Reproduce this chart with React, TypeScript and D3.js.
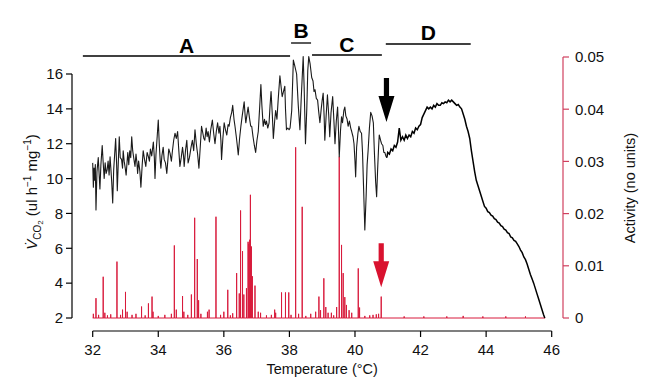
import React from "react";
import * as d3 from "d3";

// ---------- DATA ----------
const xTicks = [32, 34, 36, 38, 40, 42, 44, 46];
const leftTicks = [2, 4, 6, 8, 10, 12, 14, 16];
const rightTicks = [0, 0.01, 0.02, 0.03, 0.04, 0.05];
const rightTickLabels = ["0", "0.01", "0.02", "0.03", "0.04", "0.05"];

// noisy CO2 trace (temperature °C, VCO2)
const co2Noisy: [number, number][] = [
  [32.00,10.9],[32.02,9.5],[32.04,10.6],[32.06,9.9],[32.08,10.8],[32.10,8.2],[32.13,10.4],[32.17,11.2],[32.20,10.1],[32.22,9.4],
  [32.25,10.8],[32.29,11.9],[32.32,10.9],[32.35,10.0],[32.38,10.9],[32.41,10.3],[32.44,10.5],[32.47,11.0],[32.50,10.2],[32.53,11.25],
  [32.56,10.4],[32.58,9.8],[32.61,8.6],[32.64,10.5],[32.67,11.4],[32.70,12.3],[32.73,10.8],[32.75,9.3],[32.78,10.9],[32.81,12.4],
  [32.84,11.2],[32.88,11.1],[32.91,10.6],[32.93,11.6],[32.96,11.0],[33.00,10.5],[33.02,10.2],[33.05,11.0],[33.07,11.5],[33.10,10.8],
  [33.13,11.6],[33.16,11.2],[33.19,12.4],[33.22,11.6],[33.25,11.2],[33.29,10.7],[33.32,11.4],[33.35,10.9],[33.37,10.3],[33.40,11.0],
  [33.44,10.4],[33.47,9.5],[33.51,10.8],[33.54,11.6],[33.58,11.1],[33.62,10.7],[33.66,11.5],[33.70,11.25],[33.73,11.0],[33.76,11.7],
  [33.80,11.3],[33.85,12.1],[33.88,11.2],[33.90,10.0],[33.93,11.4],[33.97,12.5],[34.00,13.36],[34.03,12.0],[34.06,11.0],[34.08,10.6],
  [34.11,11.3],[34.15,11.8],[34.18,11.1],[34.22,10.9],[34.26,10.3],[34.29,11.0],[34.32,11.7],[34.36,11.45],[34.40,11.0],[34.43,11.55],
  [34.47,12.2],[34.51,12.6],[34.55,12.3],[34.59,12.7],[34.62,11.8],[34.66,10.7],[34.70,11.2],[34.74,11.8],[34.77,11.3],[34.79,10.7],
  [34.83,11.6],[34.87,12.2],[34.91,10.9],[34.95,11.2],[35.00,11.8],[35.04,12.2],[35.08,11.6],[35.12,12.8],[35.16,12.0],[35.20,11.4],
  [35.24,10.6],[35.28,11.8],[35.32,13.0],[35.36,12.6],[35.39,12.3],[35.42,12.2],[35.46,12.9],[35.49,12.4],[35.52,12.7],[35.56,12.1],
  [35.60,12.8],[35.65,13.36],[35.69,12.6],[35.73,12.0],[35.77,12.7],[35.81,13.2],[35.85,12.6],[35.88,13.0],[35.91,12.2],[35.93,11.1],
  [35.97,12.3],[36.01,13.2],[36.05,12.8],[36.09,12.5],[36.13,13.1],[36.16,13.0],[36.20,13.5],[36.24,13.8],[36.27,14.2],[36.31,13.4],
  [36.34,13.0],[36.38,12.4],[36.41,11.9],[36.44,11.35],[36.48,12.3],[36.52,13.0],[36.56,13.6],[36.59,14.0],[36.62,14.4],[36.65,13.6],
  [36.67,13.2],[36.70,13.6],[36.74,14.1],[36.78,13.5],[36.82,13.0],[36.85,13.0],[36.89,12.4],[36.93,11.9],[36.97,11.5],[37.01,12.2],
  [37.05,12.7],[37.09,14.0],[37.13,15.4],[37.16,14.2],[37.20,13.0],[37.24,13.4],[37.27,13.1],[37.30,13.3],[37.34,12.9],[37.38,13.2],
  [37.41,14.2],[37.44,15.0],[37.48,13.6],[37.51,12.3],[37.55,13.3],[37.58,13.9],[37.62,13.4],[37.66,14.6],[37.71,15.9],[37.75,15.2],
  [37.78,14.7],[37.82,15.0],[37.86,15.3],[37.88,14.0],[37.91,12.8],[37.95,12.9],[37.99,12.8],[38.02,12.9],[38.07,13.9],[38.10,15.6],
  [38.12,16.8],[38.16,16.5],[38.22,16.0],[38.27,14.2],[38.32,12.8],[38.36,14.6],[38.42,17.0],[38.45,15.2],[38.49,12.0],[38.53,14.0],
  [38.56,16.2],[38.59,17.0],[38.63,16.6],[38.68,15.8],[38.72,15.6],[38.75,15.0],[38.78,15.1],[38.82,14.6],[38.86,14.5],[38.89,13.9],
  [38.93,13.2],[38.97,14.0],[39.00,14.5],[39.03,14.9],[39.06,13.5],[39.08,12.2],[39.12,13.6],[39.16,14.8],[39.20,13.6],[39.23,12.4],
  [39.27,13.8],[39.32,14.7],[39.36,13.2],[39.39,12.0],[39.43,13.3],[39.47,14.1],[39.50,12.6],[39.52,11.25],[39.56,12.8],[39.59,13.55],
  [39.62,13.2],[39.66,13.9],[39.69,14.1],[39.72,13.6],[39.76,13.4],[39.79,13.0],[39.83,13.3],[39.87,12.9],[39.90,12.7],[39.94,12.4],
  [39.97,12.0],[40.00,11.0],[40.02,10.1],[40.05,11.8],[40.09,12.6],[40.12,13.0],[40.16,12.7],[40.20,12.6],[40.23,11.5],[40.26,9.6],
  [40.30,7.05],[40.34,9.0],[40.37,10.8],[40.40,11.6],[40.44,12.9],[40.48,13.8],[40.52,13.6],[40.56,13.2],[40.59,11.6],[40.63,9.8],
  [40.66,8.96],[40.69,10.5],[40.72,11.8],[40.74,12.5],[40.78,12.2],[40.81,12.0],[40.85,11.9],[40.88,11.5],[40.91,11.5],[40.94,11.3],
  [40.97,11.2],
];

// smoother CO2 trace after activity stops (temperature °C, VCO2)
const co2Decline: [number, number][] = [
  [40.97,11.2],[41.00,11.5],[41.05,11.4],[41.10,11.7],[41.15,11.6],[41.20,11.9],[41.25,11.8],[41.30,12.1],[41.35,12.9],[41.40,12.2],
  [41.45,12.4],[41.50,12.2],[41.55,12.5],[41.60,12.3],[41.65,12.5],[41.70,12.4],[41.75,12.7],[41.80,12.6],[41.85,12.9],[41.90,12.8],
  [41.95,13.0],[42.00,13.1],[42.05,13.5],[42.10,13.7],[42.15,13.9],[42.20,14.1],[42.25,14.0],[42.30,14.1],[42.35,14.0],[42.40,14.2],
  [42.45,14.1],[42.50,14.3],[42.55,14.2],[42.60,14.2],[42.65,14.35],[42.70,14.3],[42.75,14.4],[42.80,14.35],[42.85,14.5],[42.90,14.4],
  [42.95,14.5],[43.00,14.4],[43.05,14.3],[43.10,14.2],[43.15,14.25],[43.20,14.1],[43.25,14.0],[43.30,13.7],[43.35,13.4],[43.40,13.0],
  [43.45,12.7],[43.50,12.3],[43.55,11.6],[43.60,11.0],[43.65,10.4],[43.70,9.9],[43.75,9.6],[43.80,9.3],[43.85,9.0],[43.90,8.7],
  [43.95,8.4],[44.00,8.3],[44.05,8.1],[44.10,8.05],[44.15,7.9],[44.20,7.85],[44.25,7.7],[44.30,7.65],[44.35,7.5],[44.40,7.45],
  [44.45,7.3],[44.50,7.25],[44.55,7.1],[44.60,7.05],[44.65,6.9],[44.70,6.85],[44.75,6.65],[44.80,6.6],[44.85,6.45],[44.90,6.4],
  [44.95,6.25],[45.00,6.1],[45.05,5.9],[45.10,5.75],[45.15,5.5],[45.20,5.35],[45.25,5.1],[45.30,4.8],[45.35,4.5],[45.40,4.25],
  [45.45,4.0],[45.50,3.7],[45.55,3.4],[45.60,3.1],[45.65,2.8],[45.70,2.5],[45.75,2.2],[45.79,2.0],
];

// activity spikes (temperature °C, activity)
const activitySpikes: [number, number][] = [
  [32.02,0.0008],[32.10,0.0038],[32.18,0.0006],[32.32,0.0079],[32.37,0.001],[32.45,0.0005],[32.55,0.0007],[32.74,0.0108],
  [32.85,0.0006],[32.91,0.0016],[33.00,0.005],[33.05,0.0012],[33.20,0.0006],[33.32,0.0008],[33.49,0.0022],[33.60,0.0005],
  [33.70,0.0028],[33.81,0.0041],[33.84,0.0012],[34.00,0.0004],[34.20,0.0006],[34.40,0.0008],[34.49,0.0139],[34.55,0.0016],
  [34.74,0.0042],[34.78,0.0012],[34.90,0.0006],[35.01,0.0045],[35.11,0.0192],[35.19,0.0113],[35.23,0.0034],[35.30,0.0008],
  [35.50,0.0012],[35.55,0.0016],[35.76,0.0194],[35.90,0.0006],[36.00,0.0012],[36.12,0.0054],[36.20,0.0005],[36.27,0.0009],
  [36.39,0.0086],[36.47,0.0047],[36.51,0.0206],[36.57,0.0128],[36.61,0.0045],[36.69,0.0057],[36.74,0.0146],[36.76,0.0142],
  [36.79,0.015],[36.81,0.0236],[36.84,0.0137],[36.87,0.008],[36.95,0.0062],[37.05,0.0012],[37.12,0.001],[37.30,0.0005],
  [37.45,0.0006],[37.55,0.0016],[37.58,0.001],[37.76,0.0049],[37.88,0.0049],[37.98,0.0049],[38.05,0.0006],[38.19,0.0327],
  [38.28,0.0008],[38.39,0.0213],[38.50,0.0004],[38.65,0.0008],[38.80,0.0012],[38.90,0.0041],[38.95,0.0015],[39.05,0.0076],
  [39.11,0.0021],[39.18,0.001],[39.28,0.001],[39.35,0.0005],[39.44,0.0021],[39.52,0.0309],[39.59,0.014],[39.64,0.0086],
  [39.69,0.004],[39.74,0.0025],[39.82,0.0015],[39.90,0.001],[40.10,0.0095],[40.14,0.002],[40.30,0.0004],[40.45,0.0005],
  [40.55,0.0006],[40.65,0.0007],[40.72,0.0008],[40.80,0.0041],[41.5,0.0003],[42.1,0.0003],[42.8,0.0003],[43.3,0.0004],
  [43.9,0.0003],[44.6,0.0003],[45.2,0.0003],
];
const activityStart = 32.0;
const activityEnd = 45.8;

// phase annotations (label, start °C, end °C)
const phaseLabels = ["A", "B", "C", "D"];
const phaseStart = [31.7, 38.05, 38.69, 40.94];
const phaseEnd = [38.02, 38.66, 40.82, 43.53];

// arrows: [temperature, tip value]
const blackArrow: [number, number] = [40.96, 13.25];
const redArrow: [number, number] = [40.8, 0.0059];

// ---------- LAYOUT ----------
const W = 650;
const H = 392;
const FONT = "'Liberation Sans', Arial, Helvetica, sans-serif";
const RED = "#d81b3c";
const RED_AXIS = "#d0405e";

const x = d3.scaleLinear().domain([32, 46]).range([92.7, 551.7]);
const yL = d3.scaleLinear().domain([2, 16]).range([318, 74]);
const yR = d3.scaleLinear().domain([0, 0.05]).range([318, 57]);

const xAxisY = 331;
const leftAxisX = 72;
const rightAxisX = 563;

const phaseLayout: Record<string, { line: number; text: number }> = {
  A: { line: 56, text: 52.5 },
  B: { line: 43, text: 37.5 },
  C: { line: 55, text: 51.5 },
  D: { line: 44, text: 40 },
};

function arrowPath(cx: number, tipY: number) {
  const shaftW = 2.6;
  const headW = 8;
  const headH = 26;
  const shaftH = 18;
  const top = tipY - headH - shaftH;
  return `M${cx - shaftW},${top} L${cx + shaftW},${top} L${cx + shaftW},${tipY - headH} L${cx + headW},${tipY - headH} L${cx},${tipY} L${cx - headW},${tipY - headH} L${cx - shaftW},${tipY - headH} Z`;
}

export default function App() {
  const lineL = d3
    .line<[number, number]>()
    .x((d) => x(d[0]))
    .y((d) => yL(d[1]));

  // activity path: baseline with spikes
  const pts: [number, number][] = [[activityStart, 0]];
  activitySpikes.forEach(([t, a]) => {
    pts.push([t, 0], [t, a], [t, 0]);
  });
  pts.push([activityEnd, 0]);
  const lineR = d3
    .line<[number, number]>()
    .x((d) => x(d[0]))
    .y((d) => yR(d[1]));

  return (
    <svg
      width={W}
      height={H}
      style={{ position: "absolute", left: 0, top: 0, background: "#fff" }}
      fontFamily={FONT}
    >
      {/* activity */}
      <path d={lineR(pts) || ""} fill="none" stroke={RED} strokeWidth={1} />

      {/* CO2 traces */}
      <path d={lineL(co2Noisy) || ""} fill="none" stroke="#1a1a1a" strokeWidth={1.1} strokeLinejoin="round" />
      <path d={lineL(co2Decline) || ""} fill="none" stroke="#000" strokeWidth={1.5} strokeLinejoin="miter" />

      {/* x axis */}
      <line x1={x(32)} x2={x(46)} y1={xAxisY} y2={xAxisY} stroke="#000" strokeWidth={1.2} />
      {xTicks.map((t) => (
        <g key={t}>
          <line x1={x(t)} x2={x(t)} y1={xAxisY} y2={xAxisY + 6} stroke="#000" strokeWidth={1.2} />
          <text x={x(t)} y={355} fontSize={15} textAnchor="middle" fill="#111">
            {t}
          </text>
        </g>
      ))}
      <text x={x(39)} y={374} fontSize={14.5} textAnchor="middle" fill="#111">
        Temperature (°C)
      </text>

      {/* left axis */}
      <line x1={leftAxisX} x2={leftAxisX} y1={yL(16)} y2={yL(2)} stroke="#000" strokeWidth={1.2} />
      {leftTicks.map((v) => (
        <g key={v}>
          <line x1={leftAxisX - 6} x2={leftAxisX} y1={yL(v)} y2={yL(v)} stroke="#000" strokeWidth={1.2} />
          <text x={leftAxisX - 9} y={yL(v) + 5.3} fontSize={15} textAnchor="end" fill="#111">
            {v}
          </text>
        </g>
      ))}
      <text transform="translate(37,192) rotate(-90)" fontSize={15} textAnchor="middle" fill="#111">
        <tspan fontStyle="italic">{"V\u0307"}</tspan>
        <tspan fontSize={10} dy={4}>CO</tspan>
        <tspan fontSize={8} dy={2}>2</tspan>
        <tspan dy={-6}> (ul h</tspan>
        <tspan fontSize={10} dy={-6}>−1</tspan>
        <tspan dy={6}> mg</tspan>
        <tspan fontSize={10} dy={-6}>−1</tspan>
        <tspan dy={6}>)</tspan>
      </text>

      {/* right axis */}
      <line x1={rightAxisX} x2={rightAxisX} y1={yR(0.05)} y2={yR(0)} stroke={RED_AXIS} strokeWidth={1.2} />
      {rightTicks.map((v, i) => (
        <g key={v}>
          <line x1={rightAxisX} x2={rightAxisX + 6} y1={yR(v)} y2={yR(v)} stroke={RED_AXIS} strokeWidth={1.2} />
          <text x={rightAxisX + 12} y={yR(v) + 5.3} fontSize={15} textAnchor="start" fill="#111">
            {rightTickLabels[i]}
          </text>
        </g>
      ))}
      <text transform="translate(635,188) rotate(-90)" fontSize={14.5} textAnchor="middle" fill="#111">
        Activity (no units)
      </text>

      {/* phase annotations */}
      {phaseLabels.map((lab, i) => {
        const lay = phaseLayout[lab];
        const x1 = x(phaseStart[i]);
        const x2 = x(phaseEnd[i]);
        return (
          <g key={lab}>
            <line x1={x1} x2={x2} y1={lay.line} y2={lay.line} stroke="#000" strokeWidth={1.3} />
            <text x={(x1 + x2) / 2} y={lay.text} fontSize={21} fontWeight="bold" textAnchor="middle" fill="#000">
              {lab}
            </text>
          </g>
        );
      })}

      {/* arrows */}
      <path d={arrowPath(x(blackArrow[0]), yL(blackArrow[1]))} fill="#000" />
      <path d={arrowPath(x(redArrow[0]), yR(redArrow[1]))} fill="#d9122f" />
    </svg>
  );
}
